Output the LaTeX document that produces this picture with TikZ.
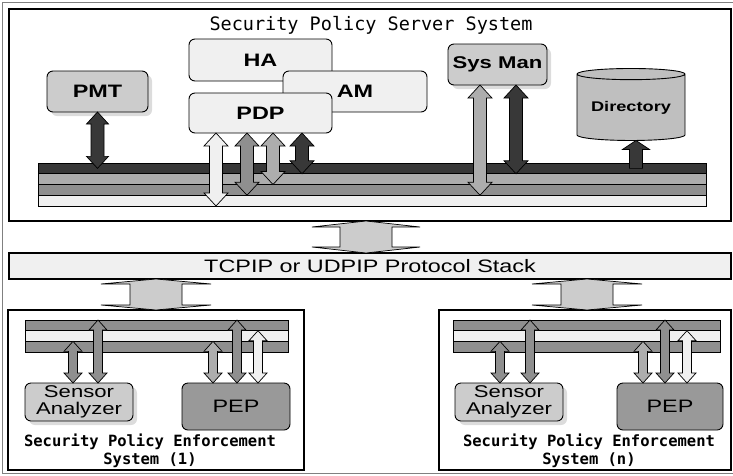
\documentclass[tikz,border=0pt]{standalone}
\usepackage{fontspec}
\newfontfamily\lblfont{Liberation Sans}[FakeStretch=1.3]
\newfontfamily\ttlfont{DejaVu Sans Mono}
\usetikzlibrary{shapes.geometric,shadows,calc}

\definecolor{gDark}{gray}{0.22}
\definecolor{gMid}{gray}{0.56}
\definecolor{gLite}{gray}{0.68}
\definecolor{gPale}{gray}{0.94}
\definecolor{gBox}{gray}{0.80}
\definecolor{gDir}{gray}{0.75}
\definecolor{gPep}{gray}{0.60}
\definecolor{gXfer}{gray}{0.80}

% size of the fat arrows: head half width, shaft half width, head length
\newcommand{\arrsize}[3]{\def\ahw{#1}\def\asw{#2}\def\ahl{#3}}
% fat double arrow, x taken from the first point
\newcommand{\fatdbl}[3]{%
  \filldraw[fill=#1, line width=0.7pt, line join=miter] let \p1=#2, \p2=#3,
      \n1={max(\y1,\y2)}, \n2={min(\y1,\y2)} in
    (\x1,\n1) -- (\x1+\ahw,\n1-\ahl) -- (\x1+\asw,\n1-\ahl) -- (\x1+\asw,\n2+\ahl)
    -- (\x1+\ahw,\n2+\ahl) -- (\x1,\n2) -- (\x1-\ahw,\n2+\ahl) -- (\x1-\asw,\n2+\ahl)
    -- (\x1-\asw,\n1-\ahl) -- (\x1-\ahw,\n1-\ahl) -- cycle;}
% fat single arrow, tip at the first point
\newcommand{\fatup}[3]{%
  \filldraw[fill=#1, line width=0.7pt] let \p1=#2, \p2=#3 in
    (\x1,\y1) -- (\x1+\ahw,\y1-\ahl) -- (\x1+\asw,\y1-\ahl) -- (\x1+\asw,\y2)
    -- (\x1-\asw,\y2) -- (\x1-\asw,\y1-\ahl) -- (\x1-\ahw,\y1-\ahl) -- cycle;}

\begin{document}
\begin{tikzpicture}[x=1pt, y=-1pt,
        frame/.style={draw, line width=1.6pt, inner sep=0pt, outer sep=0pt},
        rbox/.style={draw, line width=0.9pt, rounded corners=6pt, inner sep=0pt, outer sep=0pt,
          font=\lblfont\fontsize{18}{16}\selectfont\bfseries},
        plainbox/.style={rbox, font=\lblfont\fontsize{18}{16}\selectfont, align=center},
        twoline/.style={rbox, font=\lblfont\fontsize{17}{17.5}\selectfont, align=center},
        shbox/.style={drop shadow={shadow xshift=4pt, shadow yshift=-4pt, fill=gray!55}},
        stripe/.style={draw, line width=1pt, inner sep=0pt, outer sep=0pt},
        ttl/.style={font=\ttlfont\fontsize{18.5}{20}\selectfont},
        capt/.style={font=\ttlfont\fontsize{15.5}{18}\selectfont\bfseries, align=center}]
        \useasboundingbox (0,0) rectangle (733,475);
        \draw[gray, line width=1pt] (733,2) -- (2,2) -- (2,473) -- (733,473);
        % ---- server system ----
        \node[frame, minimum width=722pt, minimum height=212pt] (srv) at (370,115) {};
        \node[ttl] (ttl) at (371,25) {Security Policy Server System};
        \foreach \i/\c in {1/gDark, 2/gLite, 3/gMid, 4/gPale}
          \node[stripe, fill=\c, minimum width=668pt, minimum height=10.75pt] (bus\i) at (372,{163+10.75*(\i-0.5)}) {};
        \node[rbox, fill=gPale, minimum width=143pt, minimum height=42pt] (ha) at (260.5,60) {HA};
        \node[rbox, fill=gPale, minimum width=144pt, minimum height=41pt] (am) at (355,91.5) {AM};
        \node[rbox, fill=gPale, minimum width=143pt, minimum height=40pt] (pdp) at (260.5,113) {PDP};
        \node[rbox, shbox, fill=gBox, minimum width=101pt, minimum height=41pt] (pmt) at (97.5,91.5) {PMT};
        \node[rbox, shbox, fill=gBox, minimum width=99pt, minimum height=41pt,
          font=\lblfont\fontsize{17}{16}\selectfont\bfseries] (sys) at (497.5,64.5) {Sys Man};
        \node[cylinder, shape border rotate=90, aspect=0.14, draw, line width=0.9pt, fill=gDir,
          minimum width=108pt, minimum height=72pt, inner sep=0pt, outer sep=0pt,
          font=\lblfont\fontsize{14}{16}\selectfont\bfseries] (dir) at (631,107.5) {Directory};
        % ---- arrows to the bus ----
        \arrsize{11pt}{6.5pt}{12pt}
        \fatdbl{gDark}{(pmt.south)}{(bus1.center)}
        \arrsize{12pt}{6.5pt}{13pt}
        \fatdbl{gPale}{([xshift=-44.5pt]pdp.south)}{(bus4.south)}
        \fatdbl{gMid}{([xshift=-13.5pt]pdp.south)}{(bus3.south)}
        \fatdbl{gLite}{([xshift=12.5pt]pdp.south)}{(bus2.south)}
        \fatdbl{gDark}{([xshift=41.5pt]pdp.south)}{(bus1.south)}
        \fatdbl{gLite}{([xshift=-17.5pt]sys.south)}{(bus3.south)}
        \fatdbl{gDark}{([xshift=18.5pt]sys.south)}{(bus1.south)}
        \arrsize{13.5pt}{6.5pt}{9pt}
        \fatup{gDark}{([xshift=5pt]dir.south)}{(bus1.center)}
        % ---- protocol stack ----
        \node[frame, fill=gPale, minimum width=722pt, minimum height=26pt,
          font=\lblfont\fontsize{18}{20}\selectfont] (stack) at (370,266) {TCPIP or UDPIP Protocol Stack};
        % ---- enforcement systems ----
        \node[frame, minimum width=296pt, minimum height=160pt] (sysL) at (156,390) {};
        \node[frame, minimum width=292pt, minimum height=160pt] (sysR) at (585,390) {};
        \foreach \s/\xc/\w in {L/156.5/263, R/586.5/267}
          \foreach \i/\c in {1/gMid, 2/gPale, 3/gMid}
            \node[stripe, fill=\c, minimum width=\w pt, minimum height=10.67pt] (lb\s\i) at (\xc,{320+10.67*(\i-0.5)}) {};
        \node[twoline, shbox, fill=gBox, minimum width=108pt, minimum height=38pt] (sensL) at (79,402) {Sensor\\Analyzer};
        \node[plainbox, fill=gPep, minimum width=108pt, minimum height=47pt] (pepL) at (236,406.5) {PEP};
        \node[twoline, shbox, fill=gBox, minimum width=108pt, minimum height=38pt] (sensR) at (509,402) {Sensor\\Analyzer};
        \node[plainbox, fill=gPep, minimum width=106pt, minimum height=47pt] (pepR) at (670,406.5) {PEP};
        \node[capt] (captL) at (150,451) {Security Policy Enforcement\\System (1)};
        \node[capt] (captR) at (589,451) {Security Policy Enforcement\\System (n)};
        \arrsize{9pt}{4.5pt}{10pt}
        \fatdbl{gMid}{([xshift=-6pt]sensL.north)}{(lbL3.north)}
        \fatdbl{gMid}{([xshift=19pt]sensL.north)}{(lbL1.north)}
        \fatdbl{gLite}{([xshift=-23pt]pepL.north)}{(lbL3.north)}
        \fatdbl{gMid}{([xshift=1pt]pepL.north)}{(lbL1.north)}
        \fatdbl{gPale}{([xshift=22pt]pepL.north)}{(lbL2.north)}
        \fatdbl{gMid}{([xshift=-9pt]sensR.north)}{(lbR3.north)}
        \fatdbl{gMid}{([xshift=21pt]sensR.north)}{(lbR1.north)}
        \fatdbl{gLite}{([xshift=-27pt]pepR.north)}{(lbR3.north)}
        \fatdbl{gMid}{([xshift=-5pt]pepR.north)}{(lbR1.north)}
        \fatdbl{gPale}{([xshift=17pt]pepR.north)}{(lbR2.north)}
        % ---- transfer arrows ----
        \arrsize{54pt}{26pt}{6pt}
        \fatdbl{gXfer}{([xshift=-4pt]srv.south)}{(stack.north)}
        \arrsize{55pt}{26pt}{5pt}
        \fatdbl{gXfer}{(sysL.north)}{(stack.south)}
        \fatdbl{gXfer}{([xshift=2pt]sysR.north)}{(stack.south)}
\end{tikzpicture}
\end{document}
